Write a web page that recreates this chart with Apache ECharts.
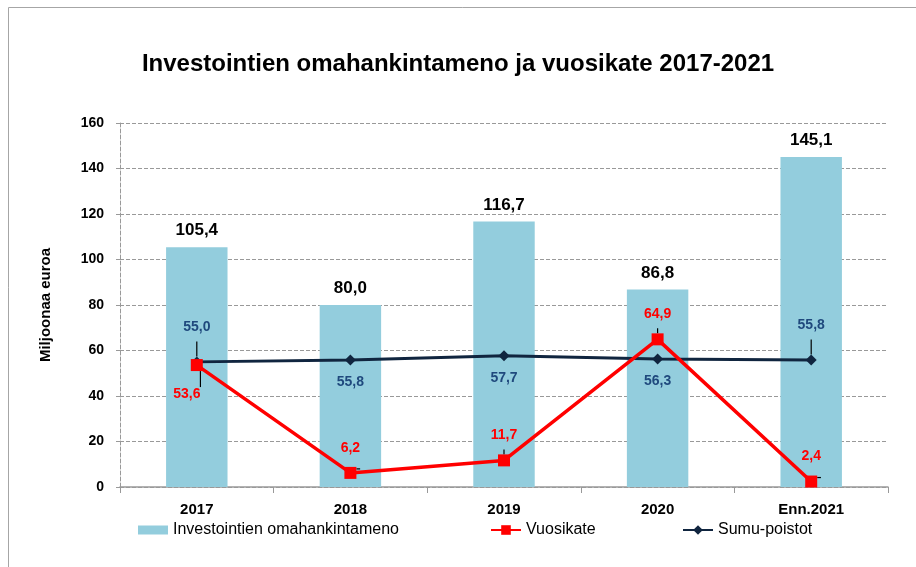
<!DOCTYPE html>
<html>
<head>
<meta charset="utf-8">
<script src="https://cdn.jsdelivr.net/npm/echarts@6/dist/echarts.min.js"></script>
<style>
  html, body { margin: 0; padding: 0; background: #fff; }
  #chart { width: 916px; height: 567px; }
</style>
</head>
<body>
<div id="chart"></div>
<script>
const years = ['2017', '2018', '2019', '2020', 'Enn.2021'];
const investoinnit = [105.4, 80.0, 116.7, 86.8, 145.1];
const vuosikate = [53.6, 6.2, 11.7, 64.9, 2.4];
const sumuPoistot = [55.0, 55.8, 57.7, 56.3, 55.8];
const yTicks = [0, 20, 40, 60, 80, 100, 120, 140, 160];

const FONT = "'Liberation Sans', Arial, sans-serif";

// pilkku desimaalierottimena
const fmt = (v) => v.toFixed(1).replace('.', ',');

// labelien sijainti (ylä/ala) pisteittäin
const sumuAbove = [true, false, false, false, true];
const vuosiAbove = [false, true, true, true, true];

document.addEventListener("DOMContentLoaded", () => {
    drawChart();
});

const drawChart = () => {
    const chart = echarts.init(document.getElementById('chart'));

    const legendText = { fontSize: 16, color: '#000' };

    const option = {
        animation: false,
        backgroundColor: '#fff',
        textStyle: { fontFamily: FONT },
        title: {
            text: 'Investointien omahankintameno ja vuosikate 2017-2021',
            left: 'center',
            top: 47,
            textStyle: { fontSize: 24, fontWeight: 'bold', color: '#000', fontFamily: FONT }
        },
        graphic: [{
            type: 'rect',
            shape: { x: 8.5, y: 7.5, width: 940, height: 600 },
            style: { fill: 'none', stroke: '#a6a6a6', lineWidth: 1 },
            silent: true
        }],
        legend: [
            {
                data: [{ name: 'Investointien omahankintameno', icon: 'rect' }],
                left: 133, top: 517,
                itemWidth: 30, itemHeight: 9, itemGap: 6,
                textStyle: legendText
            },
            {
                data: ['Vuosikate'],
                left: 485, top: 517,
                itemWidth: 30, itemHeight: 12,
                textStyle: legendText
            },
            {
                data: ['Sumu-poistot'],
                left: 677, top: 517,
                itemWidth: 30, itemHeight: 12,
                textStyle: legendText
            }
        ],
        grid: { left: 120, right: 28, top: 123, bottom: 80 },
        xAxis: {
            type: 'category',
            data: years,
            axisLine: { lineStyle: { color: '#999', width: 1.5 } },
            axisTick: { show: true, length: 6, lineStyle: { color: '#999' } },
            axisLabel: { color: '#000', fontSize: 15, fontWeight: 'bold', margin: 15 }
        },
        yAxis: {
            type: 'value',
            min: 0, max: 160, interval: 20,
            name: 'Miljoonaa euroa',
            nameLocation: 'middle',
            nameGap: 67,
            nameTextStyle: { fontSize: 15, fontWeight: 'bold', color: '#000' },
            axisLine: { show: true, lineStyle: { color: '#999', type: 'dashed' } },
            axisTick: { show: true, length: 4, lineStyle: { color: '#999' } },
            axisLabel: {
                color: '#000', fontSize: 14, fontWeight: 'bold', margin: 16,
                formatter: (v) => yTicks.includes(v) ? String(v) : ''
            },
            splitLine: { lineStyle: { color: '#999', type: 'dashed' } }
        },
        series: [
            {
                name: 'Investointien omahankintameno',
                type: 'bar',
                barWidth: '40%',
                itemStyle: { color: '#93CDDD' },
                label: {
                    show: true, position: 'top', distance: 8,
                    color: '#000', fontSize: 17, fontWeight: 'bold',
                    formatter: (p) => fmt(p.value)
                },
                data: investoinnit,
                z: 1
            },
            {
                name: 'Sumu-poistot',
                type: 'line',
                symbol: 'diamond',
                symbolSize: 11,
                lineStyle: { color: '#10253F', width: 3 },
                itemStyle: { color: '#10253F' },
                label: { show: true, color: '#1F497D', fontSize: 14, fontWeight: 'bold' },
                labelLine: { show: true, lineStyle: { color: '#000', width: 1.2 } },
                data: sumuPoistot.map((v, i) => ({
                    value: v,
                    label: {
                        position: sumuAbove[i] ? 'top' : 'bottom',
                        distance: sumuAbove[i] ? 22 : 10,
                        formatter: fmt(v)
                    },
                    labelLine: { show: sumuAbove[i] }
                })),
                z: 3
            },
            {
                name: 'Vuosikate',
                type: 'line',
                symbol: 'rect',
                symbolSize: 12,
                lineStyle: { color: '#FF0000', width: 3.5 },
                itemStyle: { color: '#FF0000' },
                label: { show: true, color: '#FF0000', fontSize: 14, fontWeight: 'bold' },
                labelLine: { show: true, lineStyle: { color: '#000', width: 1.2 } },
                data: vuosikate.map((v, i) => ({
                    value: v,
                    label: {
                        position: vuosiAbove[i] ? 'top' : 'bottom',
                        distance: vuosiAbove[i] ? 12 : 16,
                        offset: vuosiAbove[i] ? [0, 0] : [-10, 0],
                        formatter: fmt(v)
                    }
                })),
                z: 4
            }
        ]
    };

    chart.setOption(option);
};
</script>
</body>
</html>
